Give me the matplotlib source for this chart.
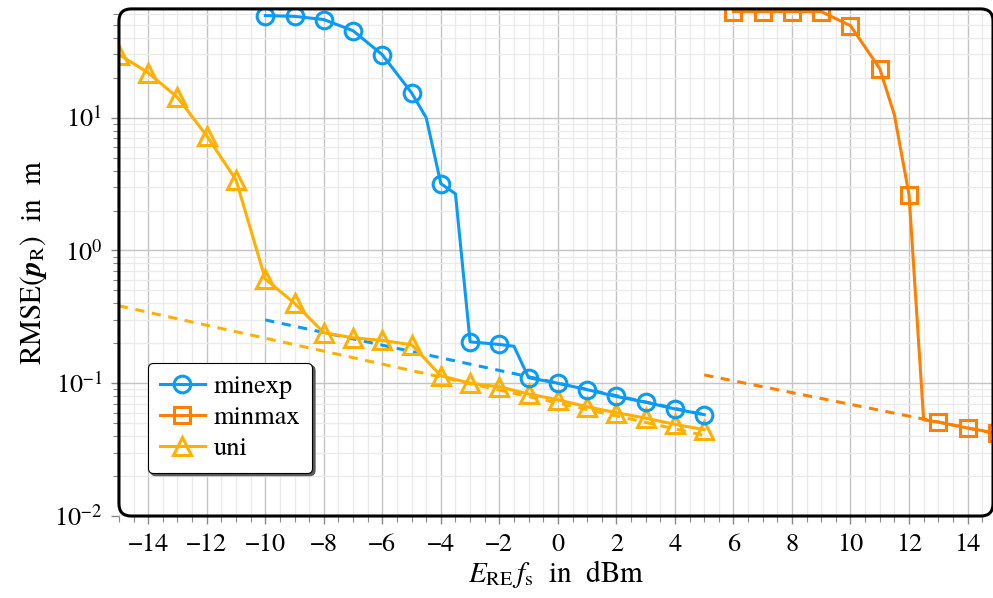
import matplotlib
matplotlib.use("Agg")
import matplotlib.pyplot as plt
from matplotlib.patches import FancyBboxPatch
from matplotlib.ticker import MultipleLocator, LogLocator, NullFormatter

plt.rcParams['font.family'] = ['TeX Gyre Termes', 'Liberation Serif', 'DejaVu Serif']
plt.rcParams['mathtext.fontset'] = 'stix'
plt.rcParams['font.size'] = 19

# --- data ---
minexp_x = [-10, -9, -8, -7, -6, -5, -4.5, -4, -3.5, -3, -2, -1.5, -1, 0, 1, 2, 3, 4, 5]
minexp_y = [58.8, 58.0, 54.9, 45.2, 29.8, 15.4, 10.0, 3.19, 2.67, 0.205, 0.196, 0.19,
            0.110, 0.100, 0.0895, 0.0795, 0.072, 0.064, 0.058]
minexp_mark = [0, 1, 2, 3, 4, 5, 7, 9, 10, 12, 13, 14, 15, 16, 17, 18]

minmax_x = [6, 7, 8, 9, 10, 11, 11.5, 12, 12.5, 13, 14, 15]
minmax_y = [63, 63, 63, 63, 49.3, 23.4, 10.5, 2.63, 0.053, 0.051, 0.046, 0.042]
minmax_mark = [0, 1, 2, 3, 4, 5, 7, 9, 10, 11]

uni_x = [-15, -14, -13, -12, -11, -10, -9, -8, -7, -6, -5, -4, -3, -2, -1, 0, 1, 2, 3, 4, 5]
uni_y = [29.9, 21.8, 14.2, 7.3, 3.4, 0.61, 0.40, 0.24, 0.22, 0.21, 0.195, 0.114, 0.100,
         0.094, 0.083, 0.075, 0.0665, 0.060, 0.0546, 0.049, 0.0447]

ref_minexp_x = [-10, 5]
ref_minexp_y = [0.30, 0.058]
ref_minmax_x = [5, 15]
ref_minmax_y = [0.1155, 0.0416]
ref_uni_x = [-15, 5]
ref_uni_y = [0.383, 0.0405]

xticks = list(range(-14, 15, 2))

c_blue = '#0A9BF5'
c_orange = '#FF8000'
c_yellow = '#FFB000'

fig = plt.figure(figsize=(9.93, 5.98), dpi=100)
ax = fig.add_axes([0.1198, 0.1371, 0.8802, 0.848])

lw = 2.2
mew = 2.2
ax.plot(ref_uni_x, ref_uni_y, ls=(0, (3, 2.5)), color=c_yellow, lw=lw, zorder=2)
ax.plot(ref_minexp_x, ref_minexp_y, ls=(0, (3, 2.5)), color=c_blue, lw=lw, zorder=2)
ax.plot(ref_minmax_x, ref_minmax_y, ls=(0, (3, 2.5)), color=c_orange, lw=lw, zorder=2)

ax.plot(minexp_x, minexp_y, color=c_blue, lw=lw, marker='o', ms=12, mfc='none',
        mew=mew, markevery=minexp_mark, label='minexp', zorder=4)
ax.plot(minmax_x, minmax_y, color=c_orange, lw=lw, marker='s', ms=11.5, mfc='none',
        mew=mew, markevery=minmax_mark, label='minmax', zorder=4)
ax.plot(uni_x, uni_y, color=c_yellow, lw=lw, marker='^', ms=12.5, mfc='none',
        mew=mew, label='uni', zorder=3)

ax.set_yscale('log')
ax.set_xlim(-15, 14.87)
ax.set_ylim(1e-2, 66)
ax.set_xticks(xticks)
ax.set_xticklabels([('\u2212%d' % -v) if v < 0 else str(v) for v in xticks])
ax.xaxis.set_minor_locator(MultipleLocator(0.5))
ax.yaxis.set_major_locator(LogLocator(base=10, numticks=10))
ax.yaxis.set_minor_locator(LogLocator(base=10, subs=range(2, 10), numticks=20))
ax.yaxis.set_minor_formatter(NullFormatter())

ax.grid(True, which='major', color='#c4c4c4', lw=1.0, zorder=0)
ax.grid(True, which='minor', color='#ebebeb', lw=1.0, zorder=0)
ax.set_axisbelow(True)
ax.tick_params(which='major', direction='out', length=6, width=1, color='#888888', pad=6)
ax.tick_params(which='minor', direction='out', length=4, width=0.8, color='#888888')

for s in ax.spines.values():
    s.set_visible(False)
frame = FancyBboxPatch((0, 0), 1, 1, boxstyle="round,pad=0,rounding_size=0.014",
                       mutation_aspect=874 / 507, transform=ax.transAxes,
                       facecolor='none', edgecolor='black', lw=2.2, clip_on=False, zorder=10)
ax.add_patch(frame)

ax.set_xlabel(r'$E_{\mathrm{RE}}\, f_{\mathrm{s}}$  in  dBm', labelpad=1, fontsize=21)
ax.set_ylabel(r'RMSE($\boldsymbol{p}_{\mathrm{R}}$)  in  m', labelpad=4, fontsize=21)

leg = ax.legend(loc='lower left', bbox_to_anchor=(0.033, 0.085), borderaxespad=0,
                fancybox=True, shadow={'color': '0.35', 'alpha': 1.0}, framealpha=1,
                edgecolor='black', handlelength=1.7, handletextpad=0.35,
                labelspacing=0.25, borderpad=0.45, fontsize=19)
leg.get_frame().set_linewidth(0.8)
leg.set_zorder(20)

fig.savefig('out.png', dpi=100)
